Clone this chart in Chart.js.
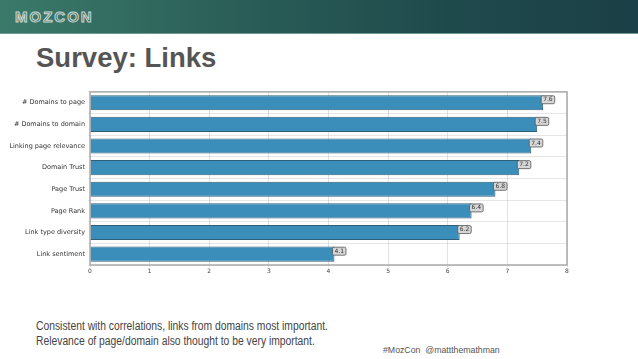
<!DOCTYPE html>
<html>
<head>
<meta charset="utf-8">
<script src="https://cdn.jsdelivr.net/npm/chart.js@4"></script>
<style>
  html, body { margin: 0; padding: 0; background: #fff; }
  body { width: 638px; height: 359px; position: relative; overflow: hidden; font-family: "Liberation Sans", Arial, sans-serif; }
  .header { position: absolute; left: 0; top: 0; width: 638px; height: 33px;
    background: linear-gradient(90deg, #3b7a6a 0%, #2b5f58 35%, #1f4a4c 70%, #1b4047 100%); border-bottom: 1px solid #6f9a93; }
  .logo { position: absolute; left: 15px; top: 8px; font-size: 15px; font-weight: bold; letter-spacing: 2px;
    color: transparent; -webkit-text-stroke: 1px #c9d6d2; }
  .title { position: absolute; left: 36px; top: 42px; font-size: 27.5px; font-weight: bold; color: #555; }
  .chart-box { position: absolute; left: 0; top: 85px; width: 590px; height: 192px; }
  .note { position: absolute; left: 36px; top: 319px; font-size: 12px; line-height: 15px; color: #444;
    transform: scaleX(0.86); transform-origin: 0 0; white-space: nowrap; }
  .handle { position: absolute; left: 383px; top: 344px; font-size: 9.5px; color: #555;
    transform: scaleX(0.92); transform-origin: 0 0; white-space: nowrap; }
</style>
</head>
<body>
<div class="header"><div class="logo">MOZCON</div></div>
<div class="title">Survey: Links</div>
<div class="chart-box"><canvas id="chart"></canvas></div>
<div class="note">Consistent with correlations, links from domains most important.<br>Relevance of page/domain also thought to be very important.</div>
<div class="handle">#MozCon&nbsp; @mattthemathman</div>
<script>
  /* ---- data ---- */
  const categories = ['# Domains to page', '# Domains to domain', 'Linking page relevance', 'Domain Trust',
    'Page Trust', 'Page Rank', 'Link type diversity', 'Link sentiment'];
  const scores = [7.6, 7.5, 7.4, 7.2, 6.8, 6.4, 6.2, 4.1];
  const xTicks = [0, 1, 2, 3, 4, 5, 6, 7, 8];

  /* value tags at the end of each bar */
  const valueTags = {
    id: 'valueTags',
    afterDatasetsDraw(chart) {
      const ctx = chart.ctx;
      ctx.save();
      ctx.font = '6px "DejaVu Sans", sans-serif';
      ctx.textBaseline = 'middle';
      chart.getDatasetMeta(0).data.forEach((bar, i) => {
        const txt = scores[i].toFixed(1);
        const w = ctx.measureText(txt).width + 4;
        const x = bar.x - 2, y = bar.y - 7;
        ctx.fillStyle = '#d6d6d6';
        ctx.strokeStyle = '#555';
        ctx.lineWidth = 0.8;
        ctx.beginPath();
        ctx.roundRect(x, y, w, 8, 1.5);
        ctx.fill();
        ctx.stroke();
        ctx.fillStyle = '#333';
        ctx.fillText(txt, x + 2, y + 4);
      });
      ctx.restore();
    },
  };

  /* plot frame */
  const frame = {
    id: 'frame',
    afterDraw(chart) {
      const { left, top, width, height } = chart.chartArea;
      const ctx = chart.ctx;
      ctx.save();
      ctx.strokeStyle = '#aaaaaa';
      ctx.lineWidth = 1.5;
      ctx.strokeRect(left, top, width, height);
      ctx.restore();
    },
  };

  new Chart(document.getElementById('chart'), {
    type: 'bar',
    data: {
      labels: categories,
      datasets: [{
        data: scores,
        backgroundColor: '#3b8eb9',
        borderColor: '#2f5f78',
        borderWidth: 1,
        barPercentage: 0.7,
        categoryPercentage: 1,
      }],
    },
    options: {
      indexAxis: 'y',
      responsive: true, maintainAspectRatio: false,
      animation: false,
      layout: { padding: { top: 5, right: 23, bottom: 0, left: 0 } },
      plugins: { legend: { display: false }, tooltip: { enabled: false } },
      scales: {
        x: {
          min: 0, max: 8,
          afterBuildTicks: (axis) => { axis.ticks = xTicks.map((v) => ({ value: v })); },
          afterFit: (axis) => { axis.height = 12; },
          ticks: { font: { size: 6, family: 'DejaVu Sans' }, color: '#444', padding: 1 },
          grid: { color: 'rgba(150,150,150,0.35)', lineWidth: 0.8, tickLength: 2 },
          border: { display: false },
        },
        y: {
          afterFit: (axis) => { axis.width = 90; },
          ticks: { font: { size: 6.5, family: 'DejaVu Sans' }, color: '#333', padding: 3 },
          grid: { color: 'rgba(150,150,150,0.3)', lineWidth: 0.8, tickLength: 2 },
          border: { display: false },
        },
      },
    },
    plugins: [valueTags, frame],
  });
</script>
</body>
</html>
